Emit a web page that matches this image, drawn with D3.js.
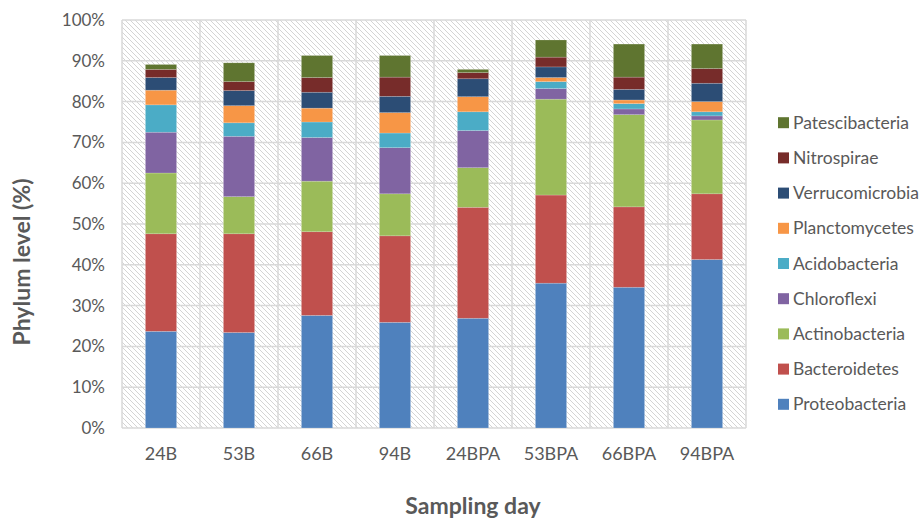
<!DOCTYPE html>
<html>
<head>
<meta charset="utf-8">
<script src="https://cdn.jsdelivr.net/npm/d3@7/dist/d3.min.js"></script>
<style>
  html, body { margin: 0; padding: 0; background: #fff; }
  svg { display: block; font-family: Lato, "Open Sans", sans-serif; }
</style>
</head>
<body>
<svg id="chart" width="921" height="521"></svg>
<script>
// Sampling days (x categories)
const categories = ["24B", "53B", "66B", "94B", "24BPA", "53BPA", "66BPA", "94BPA"];

// Phylum names, stacked bottom to top
const phyla = ["Proteobacteria", "Bacteroidetes", "Actinobacteria", "Chloroflexi",
  "Acidobacteria", "Planctomycetes", "Verrucomicrobia", "Nitrospirae", "Patescibacteria"];

// Relative abundance (%) for each phylum, one value per sampling day
const proteobacteria  = [23.7, 23.4, 27.6, 25.9, 26.9, 35.5, 34.5, 41.3];
const bacteroidetes   = [23.9, 24.2, 20.5, 21.2, 27.2, 21.6, 19.7, 16.1];
const actinobacteria  = [14.9,  9.1, 12.4, 10.3,  9.7, 23.5, 22.6, 18.1];
const chloroflexi     = [10.0, 14.8, 10.7, 11.3,  9.1,  2.6,  1.4,  1.0];
const acidobacteria   = [ 6.7,  3.3,  3.8,  3.6,  4.6,  1.7,  1.3,  1.0];
const planctomycetes  = [ 3.6,  4.2,  3.4,  5.0,  3.7,  1.0,  0.9,  2.5];
const verrucomicrobia = [ 3.1,  3.7,  3.9,  4.0,  4.4,  2.6,  2.6,  4.5];
const nitrospirae     = [ 2.0,  2.2,  3.6,  4.7,  1.5,  2.4,  3.0,  3.6];
const patescibacteria = [ 1.2,  4.6,  5.4,  5.3,  0.8,  4.2,  8.1,  6.0];

const yTicks = [0, 10, 20, 30, 40, 50, 60, 70, 80, 90, 100];

const colors = ["#4F81BD", "#C0504D", "#9BBB59", "#8064A2", "#4BACC6",
  "#F79646", "#2C4D75", "#772C2A", "#5F7530"];

const seriesValues = [proteobacteria, bacteroidetes, actinobacteria, chloroflexi,
  acidobacteria, planctomycetes, verrucomicrobia, nitrospirae, patescibacteria];

// Row table for d3.stack
const rows = categories.map((c, i) => {
  const r = { day: c };
  phyla.forEach((p, k) => { r[p] = seriesValues[k][i]; });
  return r;
});

const svg = d3.select("#chart");
const plot = { left: 122, right: 746, top: 20, bottom: 428 };

const x = d3.scaleBand().domain(categories)
  .range([plot.left, plot.right]).paddingInner(0.6).paddingOuter(0.3);
const y = d3.scaleLinear().domain([0, 100]).range([plot.bottom, plot.top]);
const color = d3.scaleOrdinal().domain(phyla).range(colors);

// Hatched plot background
const defs = svg.append("defs");
const pat = defs.append("pattern").attr("id", "hatch")
  .attr("patternUnits", "userSpaceOnUse").attr("width", 5).attr("height", 5);
pat.append("rect").attr("width", 5).attr("height", 5).attr("fill", "#fff");
pat.append("path").attr("d", "M-1,-1 L6,6 M-1,4 L1,6 M4,-1 L6,1")
  .attr("stroke", "#d4d4d4").attr("stroke-width", 1);

svg.append("rect")
  .attr("x", plot.left).attr("y", plot.top)
  .attr("width", plot.right - plot.left).attr("height", plot.bottom - plot.top)
  .attr("fill", "url(#hatch)");

// Horizontal gridlines
svg.append("g").selectAll("line").data(yTicks).join("line")
  .attr("x1", plot.left).attr("x2", plot.right)
  .attr("y1", d => y(d)).attr("y2", d => y(d))
  .attr("stroke", "#d9d9d9").attr("stroke-width", 1.5);

// Vertical gridlines at category boundaries
const step = x.step();
const bounds = d3.range(categories.length + 1).map(i => plot.left + i * step);
svg.append("g").selectAll("line").data(bounds).join("line")
  .attr("x1", d => d).attr("x2", d => d)
  .attr("y1", plot.top).attr("y2", plot.bottom)
  .attr("stroke", "#d9d9d9").attr("stroke-width", 1.5);

// Stacked bars
const stacked = d3.stack().keys(phyla)(rows);
svg.append("g").selectAll("g").data(stacked).join("g")
  .attr("fill", d => color(d.key))
  .selectAll("rect").data(d => d).join("rect")
  .attr("x", d => x(d.data.day))
  .attr("width", x.bandwidth())
  .attr("y", d => y(d[1]))
  .attr("height", d => y(d[0]) - y(d[1]))
  .attr("stroke", "rgba(255,255,255,0.3)").attr("stroke-width", 0.6);

// Y axis tick labels
const yAxis = d3.axisLeft(y).tickValues(yTicks).tickFormat(d => d + "%")
  .tickSize(0).tickPadding(17);
const gy = svg.append("g").attr("transform", `translate(${plot.left},0)`).call(yAxis);
gy.select(".domain").remove();
gy.selectAll("text").attr("fill", "#595959").style("font-size", "17px")
  .style("font-family", "Lato, sans-serif");

// X axis tick labels
const xAxis = d3.axisBottom(x).tickSize(0).tickPadding(19);
const gx = svg.append("g").attr("transform", `translate(0,${plot.bottom})`).call(xAxis);
gx.select(".domain").remove();
gx.selectAll("text").attr("fill", "#595959").style("font-size", "18px")
  .style("font-family", "Lato, sans-serif");

// Axis titles
svg.append("text")
  .attr("x", 473).attr("y", 514)
  .attr("text-anchor", "middle").attr("fill", "#595959")
  .style("font-size", "23px").style("font-weight", "bold")
  .text("Sampling day");

svg.append("text")
  .attr("transform", "translate(30,262) rotate(-90)")
  .attr("text-anchor", "middle").attr("fill", "#595959")
  .style("font-size", "23px").style("font-weight", "bold")
  .text("Phylum level (%)");

// Legend, top entry is the top of the stack
const legendItems = phyla.slice().reverse();
const legend = svg.append("g").selectAll("g").data(legendItems).join("g")
  .attr("transform", (d, i) => `translate(778,${122.7 + i * 35.2})`);
legend.append("rect").attr("x", 0).attr("y", -5.5).attr("width", 11).attr("height", 11)
  .attr("fill", d => color(d));
legend.append("text").attr("x", 15).attr("y", 0).attr("dy", "0.35em")
  .attr("fill", "#595959").style("font-size", "17.5px")
  .text(d => d);
</script>
</body>
</html>
